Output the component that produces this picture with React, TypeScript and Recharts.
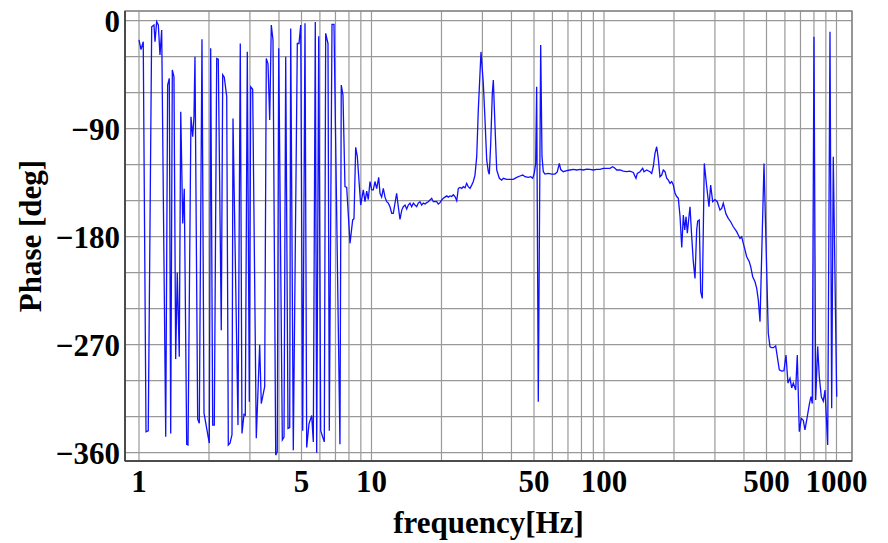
import { CartesianGrid, Label, Line, LineChart, ReferenceArea, XAxis, YAxis } from 'recharts';

// 1 – 7.5 Hz: phase wraps around wildly
const lowFreq = [
  1.0, 1.02, 1.043, 1.072, 1.096, 1.134, 1.16, 1.172, 1.191, 1.211, 1.231, 1.252, 1.303, 1.328, 1.35,
  1.369, 1.391, 1.414, 1.438, 1.461, 1.49, 1.512, 1.542, 1.566, 1.604, 1.625, 1.673, 1.702, 1.724,
  1.741, 1.788, 1.817, 1.866, 1.904, 2.006, 2.034, 2.075, 2.108, 2.159, 2.193, 2.259, 2.291, 2.327,
  2.384, 2.422, 2.463, 2.512, 2.537, 2.666, 2.727, 2.773, 2.829, 2.866, 2.923, 2.982, 3.023, 3.083,
  3.195, 3.304, 3.357, 3.472, 3.528, 3.588, 3.649, 3.707, 3.77, 3.873, 3.933, 3.99, 4.135, 4.205,
  4.276, 4.375, 4.449, 4.493, 4.61, 4.797, 4.878, 4.961, 5.06, 5.176, 5.264, 5.385, 5.531, 5.62,
  5.732, 5.812, 5.929, 6.047, 6.168, 6.266, 6.353, 6.5, 6.584, 6.763, 6.898, 7.318, 7.413, 7.539
];
const lowPhase = [
  -16, -24, -17.5, -342.5, -341.7, -5, -3.6, -17.5, -0.8, -3.6, -28.6, -7.8, -346.7, -53.6, -48,
  -344, -41, -46.7, -282, -210, -280, -75.8, -169, -140, -353, -353.5, -80, -96.7, -80,
  -30, -332, -335.5, -15.5, -327, -352, -23, -337, -337, -31.4, -32, -258, -45, -47,
  -63, -353.6, -352, -345, -81.4, -337, -19, -344, -328, -328.6, -25.8, -317.5, -55, -57,
  -348, -270, -319, -305, -31.4, -36, -82.8, -3.6, -16, -362, -359, -23, -349.4, -347,
  -30, -339.7, -339, -6.4, -358, -19, -19, -3.6, -341.7, -2.2, -355.6, -336, -329, -351,
  -1, -360, -13, -341.7, -347, -351, -10.5, -19, -341.7, -3, -3, -353, -53.6, -62
];

// 7.7 – 200 Hz: plateau with resonances near 30 Hz and 50 Hz
const midFreq = [
  7.691, 7.822, 8.083, 8.3, 8.408, 8.551, 8.688, 8.775, 8.985, 9.22, 9.376, 9.537, 9.688, 9.851,
  10.02, 10.18, 10.35, 10.53, 10.74, 10.88, 11.06, 11.24, 11.43, 11.63, 11.81, 12.01, 12.22, 12.41,
  12.62, 12.83, 13.04, 13.26, 13.49, 13.7, 13.94, 14.17, 14.4, 14.64, 14.89, 15.13, 15.38, 15.64,
  15.89, 16.16, 16.44, 16.7, 16.99, 17.28, 17.55, 17.85, 18.15, 18.44, 18.75, 19.07, 19.38, 19.71,
  20.04, 20.36, 20.71, 21.06, 21.4, 21.77, 22.13, 22.49, 22.87, 23.26, 23.63, 24.03, 24.43, 24.82,
  25.25, 25.67, 26.08, 26.53, 26.98, 27.41, 27.87, 28.35, 28.8, 29.29, 29.58, 30.26, 30.78, 31.3,
  31.8, 32.12, 32.57, 33.09, 33.42, 33.98, 34.56, 35.46, 36.31, 36.89, 38.15, 39.42, 40.73, 42.13,
  43.53, 44.71, 45.74, 47.26, 48.39, 49.36, 50.14, 50.84, 51.34, 52.17, 53.42, 54.12, 54.82, 55.75,
  57.6, 59.58, 61.55, 62.97, 64.23, 65.13, 66.82, 69.12, 71.42, 73.79, 76.32, 78.86, 81.47, 84.26,
  87.06, 89.95, 93.03, 96.12, 99.31, 102.7, 106.1, 109.0, 111.5, 113.4, 117.2, 121.1, 125.2, 129.3,
  133.7, 135.9, 137.3, 139.1, 142.8, 146.7, 148.6, 152.6, 157.7, 160.4, 162.9, 165.7, 168.5, 171.2,
  174.1, 177.1, 179.9, 183.0, 186.1, 189.1, 192.3, 195.6, 198.7
];
const midPhase = [
  -138.3, -139, -185.5, -166, -165, -105.5, -113, -125, -153.6, -141, -150.8, -142, -149, -134,
  -141, -141, -134, -140, -130.5, -143.8, -147, -139.7, -147, -150.8, -152, -155, -160.5, -160.5,
  -152, -143.8, -155, -165.5, -158, -155, -153.6, -157, -153.6, -152, -155, -152, -153.6, -155,
  -152, -150.8, -153.6, -152, -152.8, -151.6, -150.8, -149.4, -148, -150.8, -150.8, -150.8, -152.8, -151.6,
  -149.4, -148, -147, -146, -147, -146, -146.5, -145, -146.5, -150, -139.7, -139, -139.7, -138.3,
  -139.2, -135.5, -138.3, -139.7, -137, -134, -128.6, -113.3, -74.4, -43.9, -26, -52, -82.7, -116,
  -125.8, -128, -102, -60.5, -49.4, -88, -124.4, -131.3, -132.8, -131.3, -132.2, -132.2, -132.2, -130.5,
  -129.4, -128.6, -130, -130.5, -130, -131.3, -127, -118.9, -55, -317.5, -20.3, -113.3, -125.8, -127.8,
  -127.2, -127.8, -127.8, -126, -118.9, -124, -125.8, -125, -124.4, -123.9, -124.4, -123.9, -124.4, -123.6,
  -123.9, -124.4, -123.9, -123.9, -123, -123, -123, -121.7, -123, -124.4, -124.4, -125.3, -125.8, -125.3,
  -126.4, -129.5, -131.3, -127.2, -125.8, -123, -125.8, -124.4, -125.8, -127.2, -121.7, -110.5, -105, -114.7,
  -130, -128.6, -124.4, -125.8, -131.3, -132.8, -135.5, -134, -136.9
];

// 200 – 1000 Hz: roll-off and wrapping again
const highFreq = [
  202.1, 205.5, 208.8, 212.4, 216.0, 219.4, 222.5, 225.4, 228.3, 231.5, 234.4, 238.4, 242.2, 246.3,
  250.4, 252.9, 256.9, 260.6, 264.7, 270.0, 276.5, 282.8, 287.6, 293.4, 300.1, 307.0, 315.4, 320.8,
  325.9, 334.7, 342.4, 350.6, 359.8, 372.1, 378.1, 384.5, 391.0, 397.3, 404.1, 411.0, 421.6, 427.6,
  436.1, 446.2, 453.8, 461.1, 468.9, 487.8, 508.9, 517.6, 526.4, 534.8, 547.6, 556.4, 567.5, 581.1,
  594.5, 606.4, 618.5, 631.0, 641.6, 651.9, 667.5, 678.2, 691.8, 705.6, 719.7, 731.9, 748.8, 763.8,
  776.7, 786.8, 800.2, 813.8, 830.1, 843.4, 860.3, 877.5, 892.4, 916.5, 937.6, 953.5, 968.7, 1002
];
const highPhase = [
  -143.8, -146.5, -148, -163.3, -189, -162, -174.4, -163.3, -177, -165, -155, -180, -200.8, -214.7,
  -174.4, -167, -166, -225.8, -231.4, -118.9, -138, -155, -137, -150.8, -149, -150.8, -157.8, -156.4,
  -152, -161, -164.7, -167.5, -171.7, -175.8, -178.6, -181.4, -180, -185.5, -191, -196.7, -200.8, -205,
  -213.3, -217.5, -223, -232.8, -250.8, -118.9, -260.5, -271.7, -272.5, -272.5, -271, -280, -291, -292,
  -291.6, -278.6, -302, -298, -306, -302, -307.8, -278.6, -342.5, -331.4, -333, -341, -330, -320,
  -313.3, -319, -13.3, -316, -271.4, -296.7, -313.3, -317, -307.8, -353.6, -9.2, -323, -113.3, -313.3
];

const xGridTicks = [
  1, 2, 3, 4, 5, 6, 7, 8, 9, 10, 20, 30, 40, 50, 60, 70, 80, 90,
  100, 200, 300, 400, 500, 600, 700, 800, 900, 1000
];
const xLabelTicks = [1, 5, 10, 50, 100, 500, 1000];
const yGridTicks = [-360, -330, -300, -270, -240, -210, -180, -150, -120, -90, -60, -30, 0];
const yLabelTicks = [-360, -270, -180, -90, 0];

const xDomain = [0.8706, 1166];
const yDomain = [-366.9, 8.1];

const data = [
  ...lowFreq.map((f, i) => ({ f, phase: lowPhase[i] })),
  ...midFreq.map((f, i) => ({ f, phase: midPhase[i] })),
  ...highFreq.map((f, i) => ({ f, phase: highPhase[i] }))
];

const serif = '"Liberation Serif", "Times New Roman", serif';
const tickFont = { fontFamily: serif, fontWeight: 'bold', fontSize: 31, fill: '#000' };

export default function App() {
  return (
    <div style={{ position: 'absolute', left: 0, top: 0, background: '#fff' }}>
      <LineChart width={888} height={543} data={data} margin={{ top: 11, right: 36, left: 0, bottom: 0 }}>
        <CartesianGrid stroke="#999" strokeWidth={1.2} />
        <XAxis
          dataKey="f"
          type="number"
          scale="log"
          domain={xDomain}
          allowDataOverflow
          ticks={xGridTicks}
          interval={0}
          tickFormatter={(v: number) => (xLabelTicks.includes(v) ? String(v) : '')}
          tickSize={0}
          tickMargin={9}
          height={82}
          tick={tickFont}
          axisLine={{ stroke: '#333', strokeWidth: 1.5 }}
        >
          <Label
            value="frequency[Hz]"
            position="insideBottom"
            offset={10}
            fontFamily={serif}
            fontWeight="bold"
            fontSize={31}
            fill="#000"
          />
        </XAxis>
        <YAxis
          type="number"
          domain={yDomain}
          allowDataOverflow
          ticks={yGridTicks}
          interval={0}
          tickFormatter={(v: number) => (yLabelTicks.includes(v) ? (v < 0 ? `\u2212${-v}` : '0') : '')}
          tickSize={0}
          tickMargin={5}
          width={125}
          tick={tickFont}
          axisLine={{ stroke: '#333', strokeWidth: 1.5 }}
        >
          <Label
            value="Phase [deg]"
            position="insideLeft"
            angle={-90}
            offset={30}
            fontFamily={serif}
            fontWeight="bold"
            fontSize={31}
            fill="#000"
            style={{ textAnchor: 'middle' }}
          />
        </YAxis>
        <Line
          type="linear"
          dataKey="phase"
          stroke="#1010ff"
          strokeWidth={1.3}
          dot={false}
          isAnimationActive={false}
        />
        <ReferenceArea
          x1={xDomain[0]}
          x2={xDomain[1]}
          y1={yDomain[0]}
          y2={yDomain[1]}
          fill="none"
          stroke="#888"
          strokeWidth={1.5}
        />
      </LineChart>
    </div>
  );
}
